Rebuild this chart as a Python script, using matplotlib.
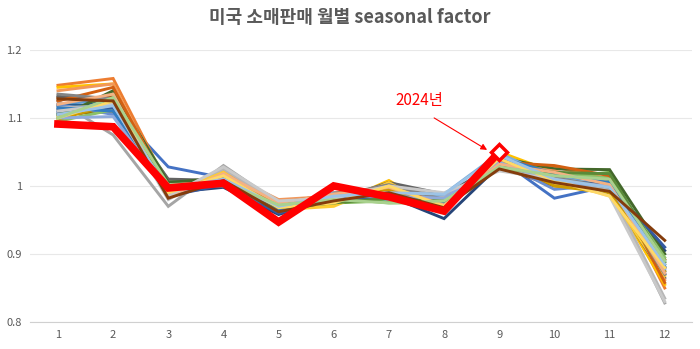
import matplotlib
matplotlib.use("Agg")
import matplotlib.pyplot as plt

plt.rcParams["font.family"] = ["Noto Sans CJK KR", "DejaVu Sans"]

months = list(range(1, 13))

# 2024 (partial year, Jan-Sep)
sf_2024 = [1.091, 1.087, 0.997, 1.004, 0.947, 1.000, 0.984, 0.963, 1.050]

# earlier years, one row per year
past_factors = [
    [1.105, 1.115, 1.028, 1.012, 0.968, 0.980, 0.985, 0.965, 1.040, 0.982, 1.000, 0.870],
    [1.148, 1.158, 1.000, 1.015, 0.972, 0.985, 0.995, 0.975, 1.035, 1.028, 1.010, 0.850],
    [1.125, 1.075, 0.970, 1.030, 0.975, 0.985, 1.000, 0.985, 1.025, 1.010, 0.995, 0.828],
    [1.145, 1.150, 0.985, 1.022, 0.965, 0.972, 1.008, 0.960, 1.050, 1.020, 0.992, 0.855],
    [1.120, 1.128, 0.995, 1.010, 0.962, 0.980, 0.992, 0.972, 1.045, 1.015, 1.005, 0.875],
    [1.100, 1.135, 1.008, 1.008, 0.968, 0.975, 0.978, 0.982, 1.035, 1.012, 1.020, 0.885],
    [1.112, 1.125, 0.990, 0.998, 0.958, 0.982, 0.985, 0.952, 1.030, 1.005, 0.998, 0.905],
    [1.130, 1.130, 0.985, 1.010, 0.965, 0.990, 0.990, 0.970, 1.028, 1.000, 0.995, 0.880],
    [1.132, 1.122, 1.010, 1.008, 0.978, 0.978, 1.005, 0.988, 1.032, 1.015, 0.990, 0.865],
    [1.105, 1.110, 0.992, 1.018, 0.972, 0.982, 0.998, 0.978, 1.040, 1.010, 1.000, 0.892],
    [1.118, 1.120, 1.000, 1.005, 0.962, 0.978, 0.985, 0.968, 1.038, 1.020, 1.008, 0.880],
    [1.100, 1.140, 1.005, 1.012, 0.970, 0.980, 0.982, 0.975, 1.042, 1.025, 1.024, 0.900],
    [1.120, 1.105, 0.988, 1.012, 0.965, 0.985, 0.988, 0.972, 1.036, 0.995, 1.002, 0.872],
    [1.140, 1.150, 0.990, 1.020, 0.980, 0.985, 0.995, 0.975, 1.032, 1.022, 1.005, 0.862],
    [1.115, 1.118, 0.980, 1.025, 0.975, 0.980, 0.995, 0.985, 1.028, 1.005, 0.995, 0.835],
    [1.102, 1.128, 0.988, 1.020, 0.965, 0.970, 1.005, 0.962, 1.045, 1.002, 0.988, 0.868],
    [1.110, 1.122, 0.995, 1.012, 0.970, 0.990, 0.980, 0.988, 1.048, 1.012, 1.000, 0.890],
    [1.095, 1.112, 1.000, 1.000, 0.972, 0.982, 0.975, 0.975, 1.025, 1.018, 1.012, 0.895],
    [1.108, 1.115, 0.985, 1.002, 0.960, 0.980, 0.985, 0.965, 1.038, 1.008, 1.002, 0.910],
    [1.125, 1.145, 0.995, 1.005, 0.975, 0.988, 0.992, 0.978, 1.035, 1.030, 1.015, 0.858],
    [1.135, 1.128, 0.985, 1.015, 0.968, 0.985, 1.002, 0.980, 1.030, 1.012, 0.998, 0.870],
    [1.098, 1.120, 0.992, 1.010, 0.972, 0.978, 0.995, 0.965, 1.040, 1.000, 0.990, 0.875],
    [1.115, 1.110, 0.998, 1.000, 0.965, 0.980, 0.988, 0.975, 1.042, 1.018, 1.005, 0.882],
    [1.105, 1.125, 1.000, 1.008, 0.968, 0.975, 0.982, 0.978, 1.030, 1.020, 1.018, 0.888],
    [1.100, 1.102, 0.990, 1.005, 0.970, 0.985, 0.985, 0.982, 1.035, 1.005, 1.000, 0.878],
    [1.120, 1.135, 0.985, 1.018, 0.975, 0.988, 0.998, 0.972, 1.032, 1.020, 1.002, 0.872],
    [1.110, 1.120, 0.985, 1.028, 0.978, 0.982, 1.000, 0.990, 1.022, 1.010, 0.985, 0.830],
    [1.100, 1.125, 0.990, 1.015, 0.968, 0.975, 1.000, 0.970, 1.040, 1.008, 0.985, 0.880],
    [1.105, 1.118, 0.995, 1.010, 0.970, 0.985, 0.990, 0.988, 1.045, 1.010, 0.998, 0.885],
    [1.100, 1.130, 1.002, 1.005, 0.972, 0.980, 0.975, 0.978, 1.028, 1.015, 1.010, 0.890],
    [1.128, 1.125, 0.982, 1.008, 0.962, 0.978, 0.990, 0.968, 1.025, 1.005, 0.992, 0.920],
]

# Excel-style palette
colors = ["#4472C4", "#ED7D31", "#A5A5A5", "#FFC000", "#5B9BD5", "#70AD47",
          "#264478", "#9E480E", "#636363", "#997300", "#255E91", "#43682B",
          "#698ED0", "#F1975A", "#B7B7B7", "#FFCD33", "#7CAFDD", "#8CC168",
          "#335AA1", "#D26012", "#848484", "#CC9A00", "#327DC2", "#5A8A39",
          "#8FAADC", "#F4B183", "#C9C9C9", "#FFD966", "#9DC3E6", "#A9D18E",
          "#843C0C"]

fig = plt.figure(figsize=(7.0, 3.49), dpi=100)
ax = fig.add_axes([0.0434, 0.0774, 0.9456, 0.7796])

for i, row in enumerate(past_factors):
    ax.plot(months, row, color=colors[i % len(colors)], linewidth=2.1,
            solid_joinstyle="miter", zorder=2)

ax.plot(months[:len(sf_2024)], sf_2024, color="#FF0000", linewidth=5.5,
        solid_joinstyle="miter", zorder=5)
ax.plot(months[8], sf_2024[8], marker="D", markersize=8, color="#FF0000",
        markerfacecolor="white", markeredgewidth=2.5, zorder=6)

# annotation
ax.annotate("", xy=(8.78, 1.053), xytext=(7.82, 1.100),
            arrowprops=dict(arrowstyle="-|>", color="#FF0000", lw=0.8,
                            mutation_scale=9, shrinkA=0, shrinkB=0))
ax.text(7.55, 1.125, "2024년", color="#FF0000", fontsize=11,
        ha="center", va="center")

ax.set_xlim(0.5, 12.5)
ax.set_ylim(0.8, 1.2)
ax.set_xticks(months)
ax.set_yticks([0.8, 0.9, 1.0, 1.1, 1.2])
ax.set_yticklabels(["0.8", "0.9", "1", "1.1", "1.2"])
ax.tick_params(axis="both", length=0, labelsize=8, labelcolor="#595959")
ax.tick_params(axis="x", pad=6)
ax.tick_params(axis="y", pad=6)
ax.grid(axis="y", color="#E8E8E8", linewidth=0.8, zorder=0)
ax.set_axisbelow(True)
for side in ["left", "right", "top"]:
    ax.spines[side].set_visible(False)
ax.spines["bottom"].set_color("#D0D0D0")

fig.text(0.5, 0.95, "미국 소매판매 월별 seasonal factor", ha="center", va="center",
         fontsize=13, color="#595959", fontweight="bold")

fig.savefig("out.png", dpi=100)
